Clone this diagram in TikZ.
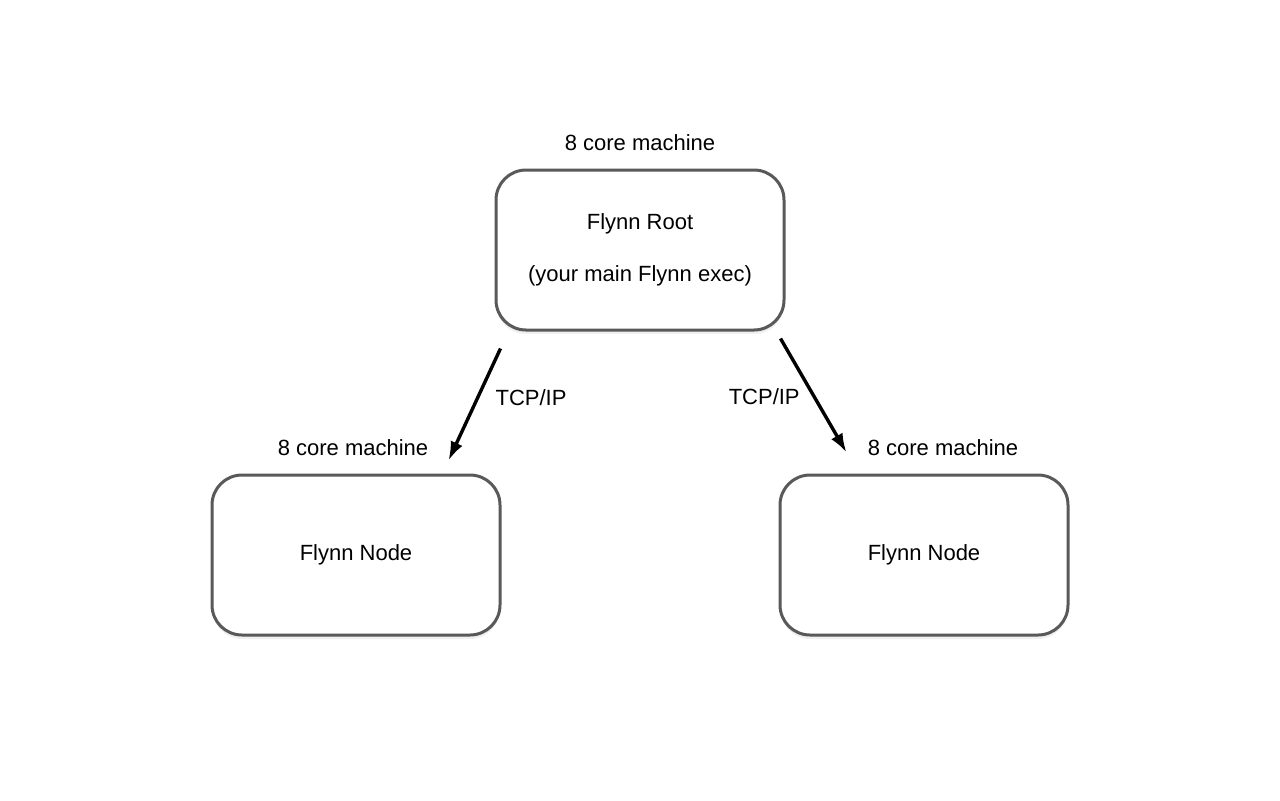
\documentclass[tikz,border=0pt]{standalone}
\usepackage{fontspec}
\setmainfont{Liberation Sans}
\usepackage{tikz}
\usetikzlibrary{positioning,arrows.meta,shadows}

\tikzset{
  machine/.style={draw=black!65,line width=1.5pt,rounded corners=15pt,fill=white,
    minimum width=144pt,minimum height=80pt,align=center,
    drop shadow={opacity=0.12,shadow xshift=0pt,shadow yshift=-2pt}},
  lbl/.style={inner sep=0pt},
  link/.style={line width=1.7pt,-{Latex[length=9.5pt,width=6.5pt]}}
}

\begin{document}
\begin{tikzpicture}[x=0.5pt,y=-0.5pt,font=\fontsize{11}{13.2}\selectfont]
\useasboundingbox (0,0) rectangle (1280,800);

% Maschinen
\node[machine] (root) at (640,250) {Flynn Root\\[12.5pt](your main Flynn exec)};
\node[machine] (left) at (356,555) {Flynn Node};
\node[machine] (right) at (924,555) {Flynn Node};

\node[lbl,above=8.5pt of root] (rootlbl) {8 core machine};
\node[lbl,above=8.5pt of left,xshift=-1.5pt] (leftlbl) {8 core machine};
\node[lbl,above=8.5pt of right,xshift=9.5pt] (rightlbl) {8 core machine};

% Verbindungen
\draw[link] ([xshift=3pt,yshift=-8.5pt]root.south west) -- ([xshift=-26.5pt,yshift=6.5pt]left.north east)
  node[lbl,pos=0.435,right=8pt] (tcpl) {TCP/IP};
\draw[link] ([xshift=-2.5pt,yshift=-3.5pt]root.south east) -- ([xshift=34pt,yshift=10.5pt]right.north west)
  node[lbl,pos=0.513,left=6.5pt] (tcpr) {TCP/IP};

\end{tikzpicture}
\end{document}
